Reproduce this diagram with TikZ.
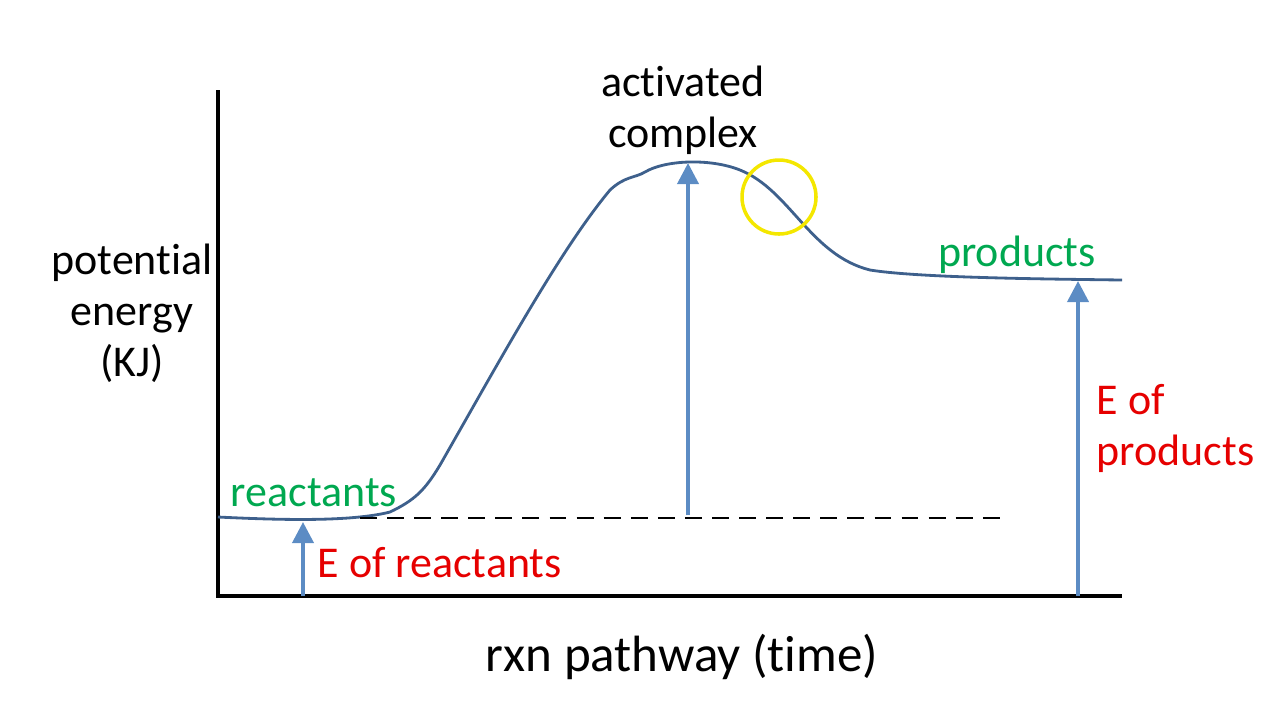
\documentclass[tikz,border=0pt]{standalone}
\usepackage{fontspec}
\setmainfont{Carlito}[Ligatures=NoCommon]
\usetikzlibrary{arrows.meta, positioning}
\definecolor{curveblue}{RGB}{62,96,140}
\definecolor{arrowblue}{RGB}{92,140,196}
\definecolor{labgreen}{RGB}{0,168,80}
\definecolor{labred}{RGB}{230,0,0}
\begin{document}
\begin{tikzpicture}[
    x=0.01cm, y=-0.01cm,
    axis/.style={line width=1pt, black},
    curve/.style={line width=0.8pt, curveblue},
    level/.style={arrowblue, line width=1.1pt, -{Triangle[length=6pt, width=6pt]}},
    lab/.style={font=\fontsize{12.5}{14.5}\selectfont, align=center, inner sep=0pt},
]
\useasboundingbox (0,0) rectangle (1280,720);

% Axes
\coordinate (top) at (218,90);
\coordinate (origin) at (218,596);
\coordinate (right) at (1122,596);
\draw[axis] (top) -- (origin) -- (right);

% Energy curve
\draw[curve] (218,517) .. controls (280,520) and (350,522) .. (390,512)
    .. controls (415,500) and (425,490) .. (440,465)
    .. controls (500,360) and (560,250) .. (610,190)
    .. controls (625,176) and (635,178) .. (645,172)
    .. controls (665,160) and (710,158) .. (740,170)
    .. controls (790,190) and (810,255) .. (870,270)
    .. controls (920,278) and (1050,279) .. (1122,280);

% Reactant level
\coordinate (dashstart) at (360,518);
\coordinate (dashend) at (1008,518);
\draw[dash pattern=on 4.8pt off 2.9pt, line width=0.6pt] (dashstart) -- (dashend);

% Energy arrows
\coordinate (rbase) at (303,596);
\coordinate (rtip) at (303,522);
\coordinate (abase) at (688,515);
\coordinate (atip) at (688,163);
\coordinate (pbase) at (1078,596);
\coordinate (ptip) at (1078,281);
\draw[level] (rbase) -- (rtip);
\draw[level] (abase) -- (atip);
\draw[level] (pbase) -- (ptip);

% Highlight
\draw[yellow!90!olive, line width=1pt] (779,197) circle (37);

% Labels
\node[lab] (activated) at (683,110) {activated\\complex};
\node[lab] (ylabel) at (132,313) {potential\\energy\\(KJ)};
\node[lab, labgreen] (products) at (1017,255) {products};
\node[lab, labgreen] (reactants) at (314,493) {reactants};
\node[lab, labred, anchor=west] (ereact) at (317,563) {E of reactants};
\node[lab, labred, anchor=west, align=left] (eprod) at (1096,428) {E of\\products};
\node[lab, font=\fontsize{14.5}{16}\selectfont] (xlabel) at (682,657) {rxn pathway (time)};
\end{tikzpicture}
\end{document}
